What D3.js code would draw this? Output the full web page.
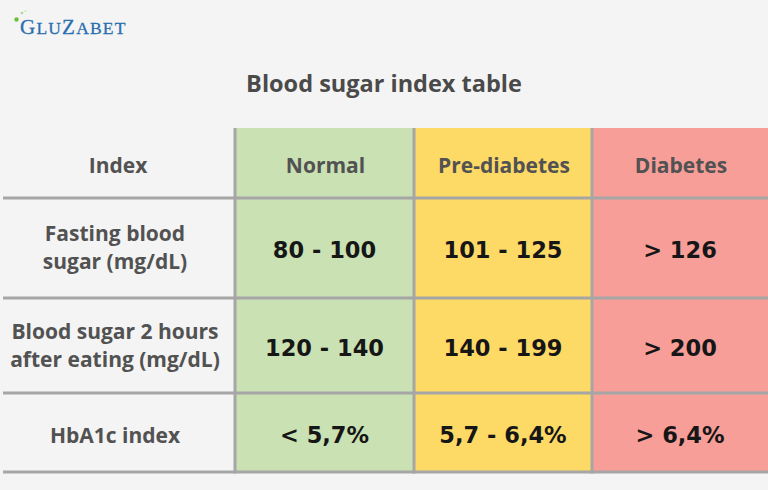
<!DOCTYPE html>
<html><head><meta charset="utf-8">
<script src="https://cdn.jsdelivr.net/npm/d3@7"></script>
<style>body{margin:0;background:#f4f4f4;}svg{display:block;}</style>
</head><body>
<script>
const title = "Blood sugar index table";
const headerIndex = "Index";
const categories = ["Normal", "Pre-diabetes", "Diabetes"];
const rowLabels = [["Fasting blood", "sugar (mg/dL)"], ["Blood sugar 2 hours", "after eating (mg/dL)"], ["HbA1c index"]];
const normalValues = ["80 - 100", "120 - 140", "< 5,7%"];
const preValues = ["101 - 125", "140 - 199", "5,7 - 6,4%"];
const diabetesValues = ["> 126", "> 200", "> 6,4%"];
const colors = ["#c9e1b3", "#fdd966", "#f79e99"];

const W = 768, H = 490;
const svg = d3.select("body").append("svg").attr("width", W).attr("height", H);
svg.append("rect").attr("width", W).attr("height", H).attr("fill", "#f4f4f4");

// logo
const logo = svg.append("g");
logo.append("circle").attr("cx", 16.5).attr("cy", 19.5).attr("r", 2.2).attr("fill", "#6cbf3c");
logo.append("circle").attr("cx", 22).attr("cy", 13).attr("r", 1.3).attr("fill", "#a8d88a");
logo.append("circle").attr("cx", 25.5).attr("cy", 11).attr("r", 1).attr("fill", "#c9e8b5");
const lt = logo.append("text").attr("x", 20).attr("y", 34)
  .attr("font-family", "Liberation Serif, serif").attr("fill", "#2a6fb0").attr("font-size", 17.5)
  .attr("letter-spacing", 1.2).attr("stroke", "#2a6fb0").attr("stroke-width", 0.3);
lt.append("tspan").attr("font-size", 21).text("G");
lt.append("tspan").text("LU");
lt.append("tspan").attr("font-size", 21).text("Z");
lt.append("tspan").text("ABET");

svg.append("text").attr("x", 384).attr("y", 92).attr("text-anchor", "middle")
  .attr("font-family", "Open Sans, sans-serif").attr("font-weight", 700).attr("font-size", 23.5)
  .attr("fill", "#4a4a4a").text(title);

// layout
const colEdges = [3, 235, 414, 592, 768];
const rowEdges = [128, 198, 298, 393, 472];
const cols = d3.range(4).map(i => ({x0: colEdges[i], x1: colEdges[i+1]}));
const rows = d3.range(4).map(i => ({y0: rowEdges[i], y1: rowEdges[i+1]}));
const valueCols = [normalValues, preValues, diabetesValues];

categories.forEach((c, i) => {
  svg.append("rect").attr("x", cols[i+1].x0).attr("y", rowEdges[0])
    .attr("width", cols[i+1].x1 - cols[i+1].x0).attr("height", rowEdges[4] - rowEdges[0])
    .attr("fill", colors[i]);
});

const lineColor = "#a6a6a6";
rowEdges.slice(1).forEach(y => {
  svg.append("line").attr("x1", 3).attr("x2", W).attr("y1", y).attr("y2", y)
    .attr("stroke", lineColor).attr("stroke-width", 3);
});
colEdges.slice(1, 4).forEach(xx => {
  svg.append("line").attr("x1", xx).attr("x2", xx).attr("y1", rowEdges[0]).attr("y2", rowEdges[4] + 1.5)
    .attr("stroke", lineColor).attr("stroke-width", 3);
});

const headerFont = "Open Sans, sans-serif";
const headers = [headerIndex].concat(categories);
headers.forEach((h, i) => {
  svg.append("text").attr("x", (cols[i].x0 + cols[i].x1) / 2 + (i===0 ? -1 : 1)).attr("y", 173)
    .attr("text-anchor", "middle").attr("font-family", headerFont).attr("font-weight", 700)
    .attr("font-size", 21).attr("fill", "#525252").text(h);
});

rowLabels.forEach((lines, r) => {
  const cy = (rows[r+1].y0 + rows[r+1].y1) / 2;
  const lh = 28;
  const t = svg.append("text").attr("text-anchor", "middle").attr("font-family", headerFont)
    .attr("font-weight", 700).attr("font-size", 21).attr("fill", "#525252");
  lines.forEach((ln, k) => {
    t.append("tspan").attr("x", (cols[0].x0 + cols[0].x1) / 2 - 4)
      .attr("y", cy + 7 + (k - (lines.length - 1) / 2) * lh + (lines.length === 1 ? 3 : 0)).text(ln);
  });
});

valueCols.forEach((vals, c) => {
  vals.forEach((v, r) => {
    const cy = (rows[r+1].y0 + rows[r+1].y1) / 2;
    svg.append("text").attr("x", (cols[c+1].x0 + cols[c+1].x1) / 2).attr("y", cy + 10)
      .attr("text-anchor", "middle").attr("font-family", "DejaVu Sans, sans-serif").attr("font-weight", 700)
      .attr("font-size", 22.5).attr("fill", "#161616").text(v);
  });
});
</script>
</body></html>
